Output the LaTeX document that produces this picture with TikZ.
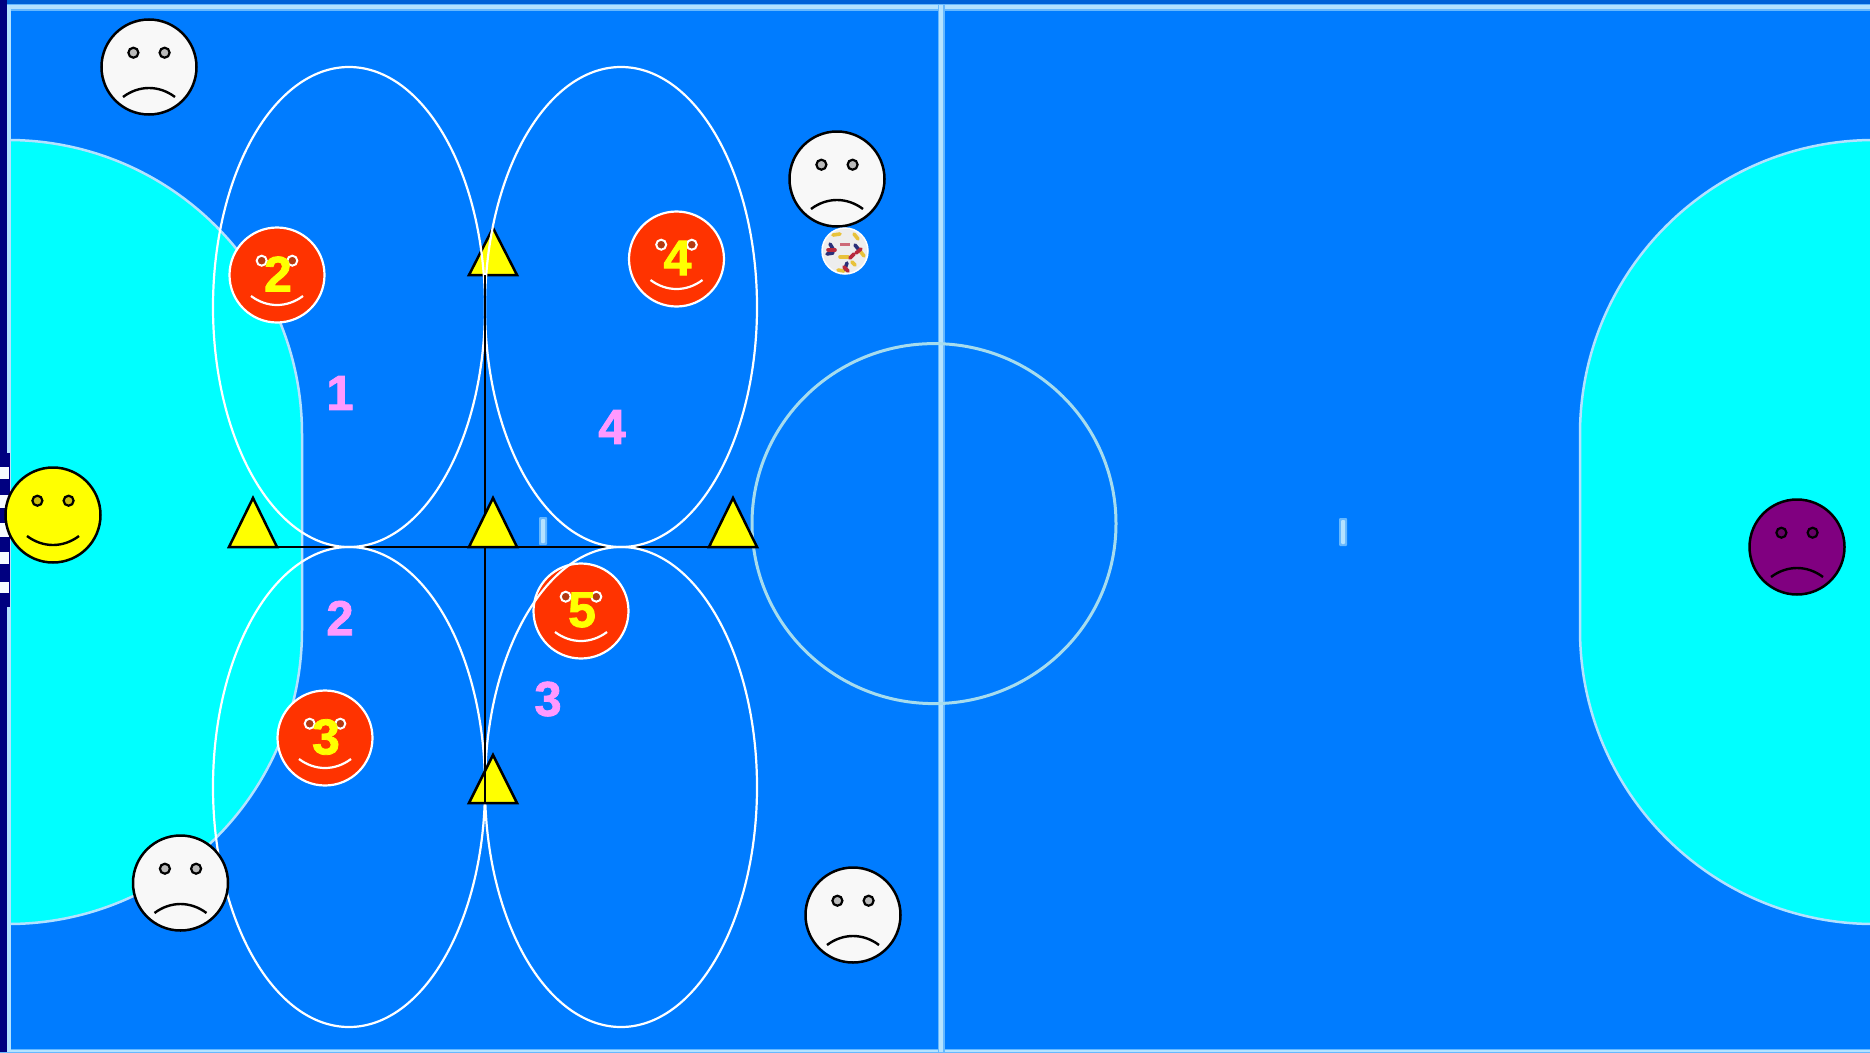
\documentclass[tikz,border=0pt]{standalone}
\usepackage{fontspec}
\setmainfont{Liberation Sans}
\newfontfamily\heavyfont[FakeBold=1.6]{Liberation Sans Bold}
\definecolor{court}{HTML}{007CFF}
\definecolor{courtdark}{HTML}{0062D8}
\definecolor{area}{HTML}{00FFFF}
\definecolor{navy}{HTML}{000080}
\definecolor{linehalo}{HTML}{66B8FF}
\definecolor{linecore}{HTML}{B4E2FF}
\definecolor{circ}{HTML}{A6DCEE}
\definecolor{redface}{HTML}{FF3300}
\definecolor{redeye}{HTML}{B33A12}
\definecolor{whiteface}{HTML}{F8F8F8}
\definecolor{whiteeye}{HTML}{BABABA}
\definecolor{yeleye}{HTML}{C8BC10}
\definecolor{purp}{HTML}{800080}
\definecolor{purpeye}{HTML}{660066}
\definecolor{pinklabel}{HTML}{FF99FF}
\definecolor{conefill}{HTML}{FFFF00}
\definecolor{ballyel}{HTML}{E8C23A}
\definecolor{ballnavy}{HTML}{2A2F78}
\definecolor{ballred}{HTML}{B8283C}
\tikzset{
  halo/.style={draw=linehalo,line width=7pt},
  core/.style={draw=linecore,line width=3.5pt},
  zone/.style={draw=white,line width=2.2pt},
  cone/.style={draw=black,fill=conefill,line width=2.5pt,line join=miter},
  rule/.style={draw=black,line width=2.5pt},
  facebody/.style={circle,draw=black,line width=2.5pt,minimum size=95pt,inner sep=0pt},
  feature/.style={draw=black,line width=2.2pt},
  redbody/.style={circle,draw=white,line width=2.2pt,minimum size=95pt,inner sep=0pt,fill=redface},
  digit/.style={text=conefill,font=\heavyfont\fontsize{50}{50}\selectfont,inner sep=0pt},
  zonelabel/.style={text=pinklabel,font=\heavyfont\fontsize{49}{49}\selectfont,inner sep=0pt},
  patch/.style={line width=3.6pt,line cap=round}
}
% name, x, y, face colour, eye colour
\newcommand{\sadface}[5]{%
  \node[facebody,fill=#4] (#1) at (#2,#3) {};
  \begin{scope}[shift={(#2,#3)}]
    \filldraw[feature,fill=#5] (-15.6,-14.3) circle (5pt);
    \filldraw[feature,fill=#5] (15.6,-14.3) circle (5pt);
    \draw[feature,line width=2.4pt] (-26,30) .. controls (-10,18) and (10,18) .. (26,30);
  \end{scope}}
\newcommand{\glad}[5]{%
  \node[facebody,fill=#4] (#1) at (#2,#3) {};
  \begin{scope}[shift={(#2,#3)}]
    \filldraw[feature,fill=#5] (-15.6,-14.3) circle (5pt);
    \filldraw[feature,fill=#5] (15.6,-14.3) circle (5pt);
    \draw[feature,line width=2.4pt] (-26,21) .. controls (-10,33) and (10,33) .. (26,21);
  \end{scope}}
% name, x, y, number
\newcommand{\player}[4]{%
  \node[redbody] (#1) at (#2,#3) {};
  \begin{scope}[shift={(#2,#3)}]
    \filldraw[draw=white,line width=2pt,fill=redeye] (-15.3,-14.3) circle (5pt);
    \filldraw[draw=white,line width=2pt,fill=redeye] (15.3,-14.3) circle (5pt);
    \draw[white,line width=2.2pt] (-26,21) .. controls (-10,33) and (10,33) .. (26,21);
  \end{scope}
  \node[digit] (#1n) at (#2+1,#3-1) {#4};}
\begin{document}
\begin{tikzpicture}[x=1pt,y=-1pt]
\useasboundingbox (0,0) rectangle (1870,1052);
% floor
\fill[court] (0,0) rectangle (1870,1052);
\fill[courtdark] (0,0) rectangle (1870,4);
% penalty areas
\filldraw[fill=area,draw=linecore,line width=2.5pt]
  (8,140) arc[start angle=-90,end angle=0,radius=294] -- (302,630)
  arc[start angle=0,end angle=90,radius=294] -- cycle;
\filldraw[fill=area,draw=linecore,line width=2.5pt]
  (1874,140) arc[start angle=-90,end angle=-180,radius=294] -- (1580,630)
  arc[start angle=180,end angle=90,radius=294] -- cycle;
% court lines
\draw[halo] (0,7) -- (1870,7);
\draw[core] (0,7) -- (1870,7);
\draw[halo,line width=4pt] (0,1051) -- (1870,1051);
\draw[core,line width=2pt] (0,1051) -- (1870,1051);
\draw[halo] (941,5) -- (941,1052);
\draw[core] (941,5) -- (941,1052);
\draw[circ,line width=3pt] (934,523.6) ellipse [x radius=182,y radius=180];
% centre marks
\fill[linehalo,rounded corners=1pt] (539,517) rectangle (547,545);
\fill[linecore,rounded corners=1pt] (541,519) rectangle (545,543);
\fill[linehalo,rounded corners=1pt] (1339,518) rectangle (1347,546);
\fill[linecore,rounded corners=1pt] (1341,520) rectangle (1345,544);
% left side and goal
\draw[core,line width=3.5pt] (9,5) -- (9,1052);
\fill[navy] (0,0) rectangle (6.5,1052);
\fill[navy] (0,453) rectangle (10,607);
\foreach \ya/\yb in {467/479,495/508,523/537,552/564,582/593}
  \fill[white!88!linecore] (0,\ya) rectangle (9,\yb);
% marked-out square
\coordinate (hstart) at (253,547);
\coordinate (hend) at (733,547);
\coordinate (vstart) at (485,275);
\coordinate (vend) at (485,803);
\draw[rule] (hstart) -- (hend);
% cone under the zones
\draw[cone] (493,228) -- (517,275) -- (469,275) -- cycle;
% players below the zones
\player{p2}{277}{275}{2}
\player{p4}{676.5}{259}{4}
\player{p5}{581}{611}{5}
\player{p3}{325}{738}{3}
% zones
\draw[zone] (349,307) ellipse [x radius=136,y radius=240];
\draw[zone] (621,307) ellipse [x radius=136,y radius=240];
\draw[zone] (349,787) ellipse [x radius=136,y radius=240];
\draw[zone] (621,787) ellipse [x radius=136,y radius=240];
% remaining cones
\draw[cone] (493,755) -- (517,803) -- (469,803) -- cycle;
\draw[rule] (vstart) -- (vend);
\draw[cone] (253,498) -- (277,547) -- (229,547) -- cycle;
\draw[cone] (493,498) -- (517,547) -- (469,547) -- cycle;
\draw[cone] (733,498) -- (757,547) -- (709,547) -- cycle;
% zone numbers
\node[zonelabel] (z1) at (340,393) {1};
\node[zonelabel] (z4) at (612,427) {4};
\node[zonelabel] (z2) at (340,618) {2};
\node[zonelabel] (z3) at (548,699) {3};
% faces
\sadface{w1}{149}{67}{whiteface}{whiteeye}
\sadface{w2}{837}{179}{whiteface}{whiteeye}
\sadface{w3}{180.5}{883}{whiteface}{whiteeye}
\sadface{w4}{853}{915}{whiteface}{whiteeye}
\sadface{keeper2}{1797}{547}{purp}{purpeye}
\glad{keeper1}{53}{515}{conefill}{yeleye}
% ball
\node[circle,draw=white,line width=1.5pt,fill=black!7,minimum size=46pt,inner sep=0pt] (ball) at (845,251) {};
\begin{scope}
  \clip (845,251) circle (22.5);
  \begin{scope}[shift={(845,251)}]
  \draw[patch,ballyel] (-12,-16) -- (-5,-17);
  \draw[patch,ballyel] (9,-17) -- (13,-12);
  \draw[patch,ballyel] (-5,6) -- (3,6);
  \draw[patch,ballyel] (15,0) -- (19,5);
  \draw[patch,ballyel] (-7,19) -- (-1,20);
  \draw[patch,ballyel] (7,11) -- (10,14);
  \draw[patch,ballnavy] (-15,-7) -- (-12,-2);
  \draw[patch,ballnavy] (10,-6) -- (14,-1);
  \draw[patch,ballnavy] (-18,3) -- (-12,2);
  \draw[patch,ballnavy] (2,12) -- (0,18);
  \draw[patch,ballred] (-17,-1) -- (-10,-1);
  \draw[patch,ballred] (11,2) -- (16,-2);
  \draw[patch,ballred] (5,7) -- (9,3);
  \draw[patch,ballred] (-1,16) -- (3,20);
  \fill[ballred!70!white] (-5,-8) rectangle (5,-5);
  \end{scope}
\end{scope}
\end{tikzpicture}
\end{document}
